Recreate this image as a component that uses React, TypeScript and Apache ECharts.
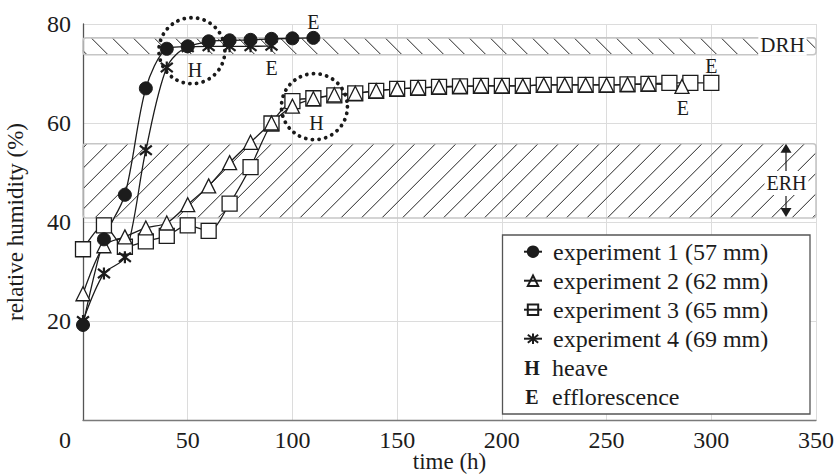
import React, { useEffect, useRef } from 'react';
import * as echarts from 'echarts';

const FONT = "'Liberation Serif', 'Times New Roman', serif";
const INK = '#1c1c1c';

// Relative humidity (%) against time (h) for the four samples
const names = [
  'experiment 1 (57 mm)',
  'experiment 2 (62 mm)',
  'experiment 3 (65 mm)',
  'experiment 4 (69 mm)',
];

const times1 = [0, 10, 20, 30, 40, 50, 60, 70, 80, 90, 100, 110];
const rh1 = [19.2, 36.5, 45.5, 67, 75, 75.5, 76.5, 76.7, 76.8, 77, 77.1, 77.2];

const times2 = [0, 10, 20, 30, 40, 50, 60, 70, 80, 90, 100, 110, 120, 130, 140, 150, 160, 170, 180, 190, 200, 210, 220, 230, 240, 250, 260, 270, 286];
const rh2 = [25.5, 35.2, 37, 38.8, 39.8, 43.5, 47.3, 52, 56.1, 60, 63.4, 64.9, 65.7, 66, 66.5, 66.9, 67.1, 67.3, 67.4, 67.5, 67.5, 67.5, 67.7, 67.7, 67.7, 67.7, 67.8, 67.9, 67.4];

const times3 = [0, 10, 20, 30, 40, 50, 60, 70, 80, 90, 100, 110, 120, 130, 140, 150, 160, 170, 180, 190, 200, 210, 220, 230, 240, 250, 260, 270, 280, 290, 300];
const rh3 = [34.5, 39.3, 35, 36.1, 37.2, 39.3, 38.2, 43.7, 51.1, 59.9, 64.4, 65, 65.6, 66, 66.5, 66.9, 67.1, 67.3, 67.4, 67.5, 67.5, 67.5, 67.7, 67.7, 67.7, 67.7, 67.8, 67.9, 68.1, 68.1, 68.1];

const times4 = [0, 10, 20, 30, 40, 50, 60, 70, 80, 90];
const rh4 = [20, 29.6, 32.9, 54.5, 71.2, 75.3, 75.5, 75.5, 75.5, 75.6];

// Deliquescence and efflorescence RH ranges (%)
const drhBand = [73.8, 77.2];
const erhBand = [40.8, 55.8];
const bandSpan = [0, 350];

// Heave events (time, RH)
const heaveMarks = [
  [52, 74.6],
  [110.5, 63.3],
];

const xTicks = { min: 0, max: 350, interval: 50 };
const yTicks = { min: 0, max: 80, interval: 20 };

const ASTERISK = 'path://M0,0L10,10M10,0L0,10M5,-1.5L5,11.5';

const endLabel = (offset: number[]) => ({
  show: true,
  formatter: 'E',
  position: 'inside',
  offset,
  color: INK,
  fontFamily: FONT,
  fontSize: 20,
});

const buildData = (ts: number[], vs: number[], offset: number[]) =>
  ts.map((t, i) =>
    i === ts.length - 1 ? { value: [t, vs[i]], label: endLabel(offset) } : [t, vs[i]]
  );

// Hatched band drawn across the full time span; dir 1 = "\" hatch, -1 = "/" hatch
const bandRenderer = (dir: number, step: number, label: string, withArrows: boolean) =>
  (_params: any, api: any) => {
    const lo = api.value(0);
    const hi = api.value(1);
    const tl = api.coord([bandSpan[0], hi]);
    const br = api.coord([bandSpan[1], lo]);
    const x0 = tl[0], y0 = tl[1], x1 = br[0], y1 = br[1];
    const h = y1 - y0;
    const children: any[] = [];
    for (let c = x0 - h + 4; c < x1; c += step) {
      const tMin = Math.max(0, x0 - c);
      const tMax = Math.min(h, x1 - c);
      if (tMax <= tMin) continue;
      const ya = dir === 1 ? y0 + tMin : y1 - tMin;
      const yb = dir === 1 ? y0 + tMax : y1 - tMax;
      children.push({
        type: 'line',
        shape: { x1: c + tMin, y1: ya, x2: c + tMax, y2: yb },
        style: { stroke: '#262626', lineWidth: 1 },
      });
    }
    children.push({
      type: 'rect',
      shape: { x: x0, y: y0, width: x1 - x0, height: h, r: 3 },
      style: { fill: 'none', stroke: '#c6c6c6', lineWidth: 1.6 },
    });
    const yc = (y0 + y1) / 2;
    if (withArrows) {
      const ax = x1 - 30;
      const ty = yc + 2;
      children.push(
        { type: 'line', shape: { x1: ax, y1: y0 + 8, x2: ax, y2: ty - 11 }, style: { stroke: INK, lineWidth: 1.2 } },
        { type: 'polygon', shape: { points: [[ax, y0], [ax - 5.5, y0 + 9], [ax + 5.5, y0 + 9]] }, style: { fill: INK } },
        { type: 'line', shape: { x1: ax, y1: ty + 13, x2: ax, y2: y1 - 9 }, style: { stroke: INK, lineWidth: 1.2 } },
        { type: 'polygon', shape: { points: [[ax, y1 - 1], [ax - 5.5, y1 - 10], [ax + 5.5, y1 - 10]] }, style: { fill: INK } },
        {
          type: 'text',
          x: ax + 0.5,
          y: ty,
          style: {
            text: label, fill: INK, font: `20px ${FONT}`, align: 'center', verticalAlign: 'middle',
            backgroundColor: '#fff', padding: [2, 2],
          },
        }
      );
    } else {
      children.push({
        type: 'text',
        x: x1 - 33.5,
        y: yc - 1,
        style: {
          text: label, fill: INK, font: `21px ${FONT}`, align: 'center', verticalAlign: 'middle',
          backgroundColor: '#fff', padding: [0, 2],
        },
      });
    }
    return { type: 'group', children };
  };

const heaveMarkPoint = (coord: number[], offset: number[]) => ({
  silent: true,
  symbol: 'circle',
  symbolSize: 66,
  itemStyle: {
    color: 'rgba(0,0,0,0)',
    borderColor: '#1a1a1a',
    borderWidth: 3.8,
    borderType: [0.1, 6.6],
    borderCap: 'round',
  },
  label: {
    show: true,
    formatter: 'H',
    position: 'inside',
    offset,
    color: INK,
    fontFamily: FONT,
    fontSize: 20,
  },
  data: [{ coord }],
});

const lineBase = {
  type: 'line',
  smooth: 0.3,
  lineStyle: { color: INK, width: 1.3 },
  emphasis: { disabled: true },
  silent: true,
  z: 3,
};

const hollow = 'rgba(255,255,255,0)';

const option: any = {
  animation: false,
  backgroundColor: '#fff',
  textStyle: { fontFamily: FONT },
  grid: { left: 83, right: 18, top: 24, bottom: 54, containLabel: false, outerBoundsMode: 'none' },
  xAxis: {
    type: 'value',
    ...xTicks,
    name: 'time (h)',
    nameLocation: 'middle',
    nameGap: 30,
    nameMoveOverlap: false,
    nameTextStyle: { fontFamily: FONT, fontSize: 23, lineHeight: 23, color: INK },
    axisLine: { lineStyle: { color: '#7a7a7a', width: 1.3 } },
    axisTick: { show: false },
    axisLabel: {
      margin: 10,
      fontFamily: FONT,
      fontSize: 24,
      lineHeight: 20,
      color: INK,
      formatter: (v: number) => (v === 0 ? '{z|0}' : String(v)),
      rich: { z: { fontFamily: FONT, fontSize: 24, lineHeight: 20, color: INK, padding: [0, 36, 0, 0] } },
    },
    splitLine: { show: true, lineStyle: { color: '#dcdcdc', width: 1 } },
  },
  yAxis: {
    type: 'value',
    ...yTicks,
    name: 'relative humidity (%)',
    nameLocation: 'middle',
    nameGap: 56,
    nameTextStyle: { fontFamily: FONT, fontSize: 23, color: INK },
    axisLine: { show: true, lineStyle: { color: '#555', width: 1.3 } },
    axisTick: { show: false },
    axisLabel: { margin: 12, fontFamily: FONT, fontSize: 24, color: INK, showMinLabel: false },
    splitLine: { show: true, lineStyle: { color: '#dcdcdc', width: 1 } },
  },
  legend: {
    orient: 'vertical',
    left: 523,
    top: 239.7,
    padding: 0,
    itemWidth: 18,
    itemHeight: 13,
    itemGap: 5,
    selectedMode: false,
    data: [
      { name: names[0] },
      { name: names[1], itemStyle: { color: hollow } },
      { name: names[2], itemStyle: { color: hollow } },
      { name: names[3] },
    ],
    textStyle: { fontFamily: FONT, fontSize: 24, color: INK, lineHeight: 24, padding: [0, 0, 0, 6] },
  },
  graphic: [
    {
      type: 'rect',
      z: 3,
      shape: { x: 502.5, y: 235, width: 307.5, height: 179 },
      style: { fill: '#fff', stroke: '#555', lineWidth: 1.3 },
    },
    { type: 'text', z: 5, x: 532, y: 368.3, style: { text: 'H', font: `bold 20px ${FONT}`, fill: INK, align: 'center', verticalAlign: 'middle' } },
    { type: 'text', z: 5, x: 552, y: 368.3, style: { text: 'heave', font: `24px ${FONT}`, fill: INK, verticalAlign: 'middle' } },
    { type: 'text', z: 5, x: 532, y: 396.7, style: { text: 'E', font: `bold 20px ${FONT}`, fill: INK, align: 'center', verticalAlign: 'middle' } },
    { type: 'text', z: 5, x: 552, y: 396.7, style: { text: 'efflorescence', font: `24px ${FONT}`, fill: INK, verticalAlign: 'middle' } },
  ],
  series: [
    {
      type: 'custom',
      name: 'DRH',
      silent: true,
      z: 1,
      clip: false,
      renderItem: bandRenderer(1, 21, 'DRH', false),
      data: [drhBand],
    },
    {
      type: 'custom',
      name: 'ERH',
      silent: true,
      z: 1,
      clip: false,
      renderItem: bandRenderer(-1, 20.5, 'ERH', true),
      data: [erhBand],
    },
    {
      ...lineBase,
      name: names[2],
      symbol: 'rect',
      symbolSize: 15,
      itemStyle: { color: '#fff', borderColor: INK, borderWidth: 1.3 },
      data: buildData(times3, rh3, [0, -17]),
    },
    {
      ...lineBase,
      name: names[1],
      symbol: 'triangle',
      symbolSize: 14,
      itemStyle: { color: '#fff', borderColor: INK, borderWidth: 1.3 },
      data: buildData(times2, rh2, [1, 21.5]),
      markPoint: heaveMarkPoint(heaveMarks[1], [2, 16]),
    },
    {
      ...lineBase,
      name: names[3],
      symbol: ASTERISK,
      symbolSize: 12,
      itemStyle: { color: INK, borderColor: INK, borderWidth: 2.2 },
      data: buildData(times4, rh4, [0, 22]),
    },
    {
      ...lineBase,
      name: names[0],
      symbol: 'circle',
      symbolSize: 13,
      itemStyle: { color: INK, borderColor: INK, borderWidth: 1 },
      data: buildData(times1, rh1, [0, -15.5]),
      markPoint: heaveMarkPoint(heaveMarks[0], [3, 19]),
    },
  ],
};

export default function App() {
  const ref = useRef<HTMLDivElement>(null);
  useEffect(() => {
    const chart = echarts.init(ref.current!, null, { renderer: 'svg' });
    chart.setOption(option);
    return () => chart.dispose();
  }, []);
  return (
    <div
      ref={ref}
      style={{ position: 'absolute', left: 0, top: 0, width: 834, height: 474, background: '#fff' }}
    />
  );
}
